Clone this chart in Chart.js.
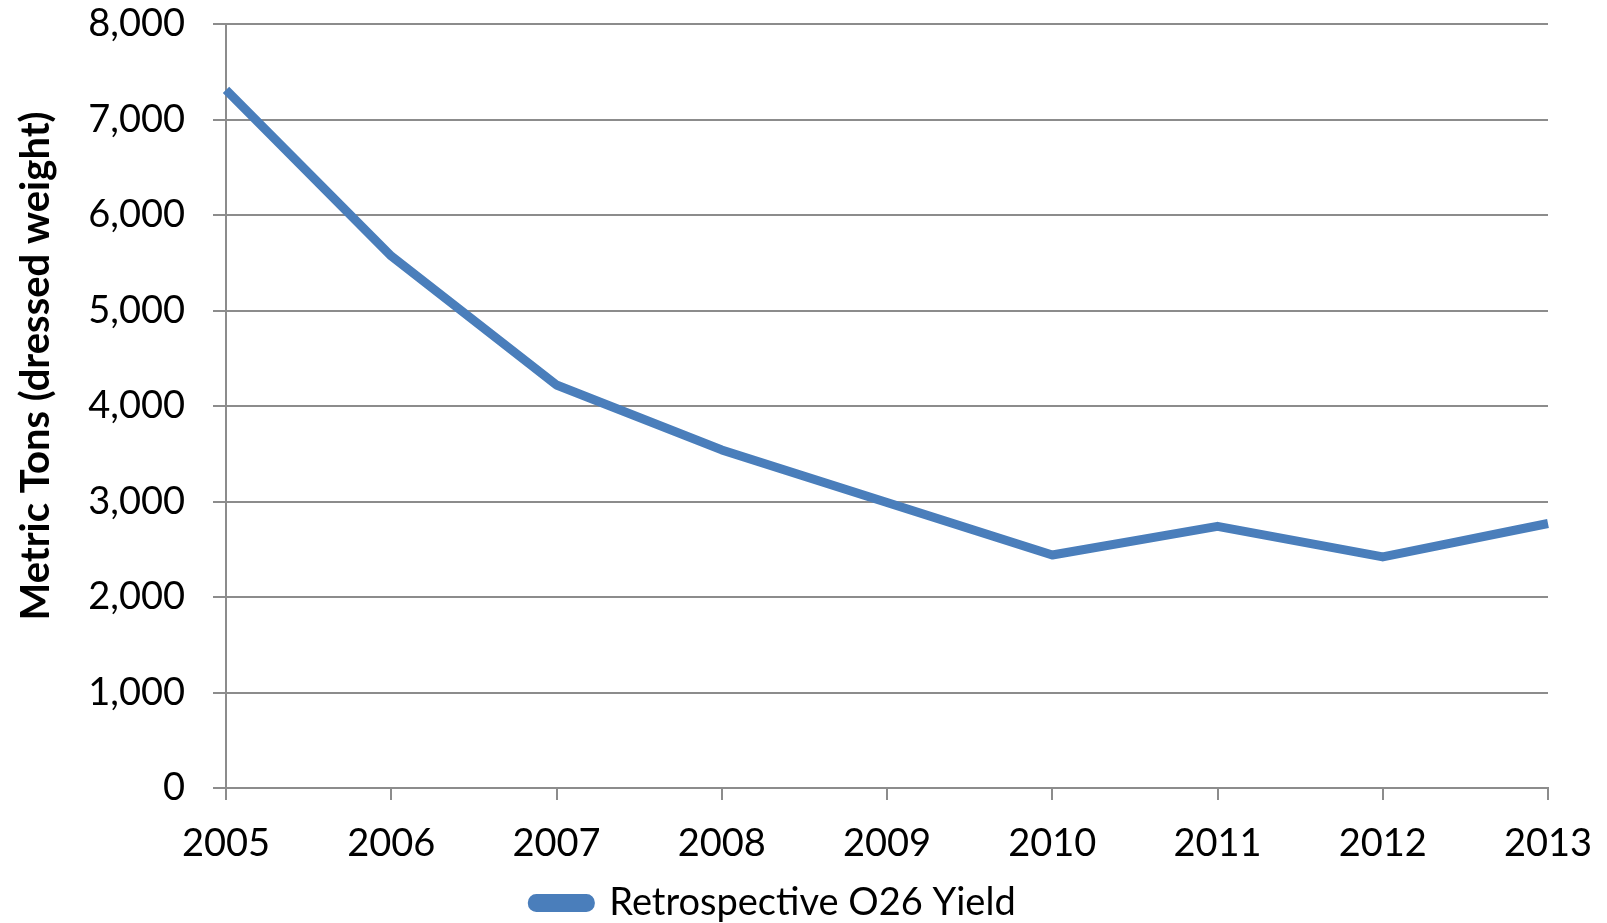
<!DOCTYPE html>
<html>
<head>
<meta charset="utf-8">
<script src="https://cdn.jsdelivr.net/npm/chart.js@4"></script>
<style>
  html, body { margin: 0; padding: 0; background: #fff; }
  #wrap { width: 1607px; height: 923px; }
</style>
</head>
<body>
<div id="wrap"><canvas id="yieldChart" width="1607" height="923"></canvas></div>
<script>
// Chart data
const years = ['2005', '2006', '2007', '2008', '2009', '2010', '2011', '2012', '2013'];
const yieldTons = [7310, 5570, 4220, 3540, 2990, 2440, 2740, 2420, 2770];
const seriesName = 'Retrospective O26 Yield';
const yAxisTitle = 'Metric Tons (dressed weight)';

const gridGray = '#8c8c8c';
const lineBlue = '#4a7ebb';
const fontFamily = 'Lato, "Open Sans", sans-serif';

// y axis title, placed like the Excel original (not centred on the plot)
const yTitlePlugin = {
    id: 'yTitle',
    afterDraw(chart) {
        const ctx = chart.ctx;
        ctx.save();
        ctx.translate(36, 366);
        ctx.rotate(-Math.PI / 2);
        ctx.font = 'bold 40px ' + fontFamily;
        ctx.fillStyle = '#000';
        ctx.textAlign = 'center';
        ctx.textBaseline = 'middle';
        ctx.fillText(yAxisTitle, 0, 0);
        ctx.restore();
    }
};

const ctx = document.getElementById('yieldChart').getContext('2d');
new Chart(ctx, {
    type: 'line',
    data: {
        labels: years,
        datasets: [{
            label: seriesName,
            data: yieldTons,
            borderColor: lineBlue,
            backgroundColor: lineBlue,
            borderWidth: 9,
            tension: 0,
            pointRadius: 0,
            borderJoinStyle: 'round'
        }]
    },
    options: {
        responsive: false,
        animation: false,
        layout: { padding: { top: 24, right: 59, bottom: -9, left: 0 } },
        scales: {
            x: {
                offset: false,
                grid: { display: true, drawOnChartArea: false, drawTicks: true, tickLength: 12, color: gridGray, lineWidth: 2 },
                border: { display: true, color: gridGray, width: 2 },
                ticks: { color: '#000', font: { family: fontFamily, size: 38 }, padding: 21, maxRotation: 0 },
                afterFit(scale) {
                    scale.height = 94;
                    scale.paddingLeft = 0;
                    scale.paddingRight = 0;
                }
            },
            y: {
                min: 0,
                max: 8000,
                ticks: {
                    stepSize: 1000,
                    color: '#000',
                    font: { family: fontFamily, size: 38 },
                    padding: 28,
                    callback: v => v.toLocaleString('en-US')
                },
                grid: { color: gridGray, lineWidth: 2, tickLength: 13 },
                border: { display: true, color: gridGray, width: 2 },
                afterFit(scale) {
                    scale.width = 226;
                    scale.paddingTop = 0;
                    scale.paddingBottom = 0;
                }
            }
        },
        plugins: {
            legend: {
                position: 'bottom',
                labels: {
                    color: '#000',
                    font: { family: fontFamily, size: 38 },
                    boxWidth: 58,
                    boxHeight: 9,
                    useBorderRadius: true,
                    borderRadius: 4,
                    padding: 2
                }
            },
            tooltip: { enabled: false }
        }
    },
    plugins: [yTitlePlugin]
});
</script>
</body>
</html>
